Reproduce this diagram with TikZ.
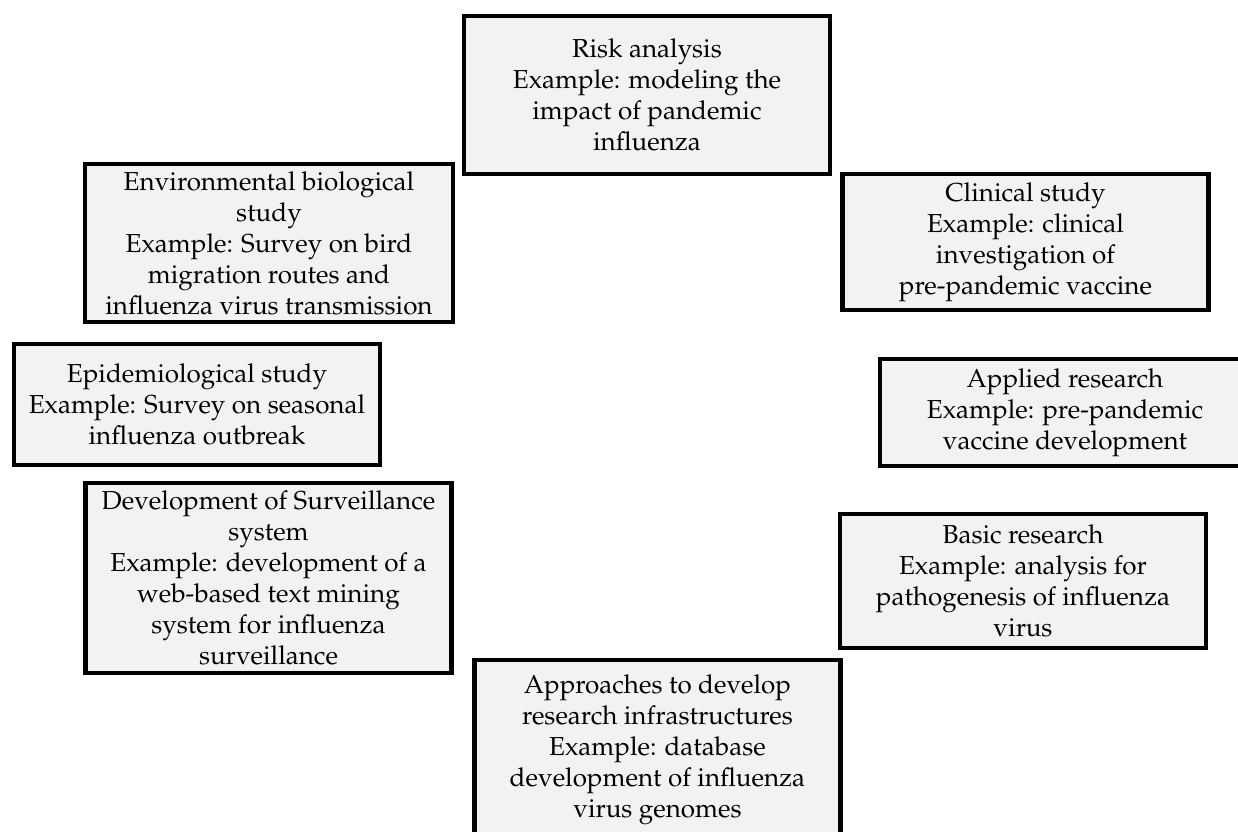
\documentclass[tikz,border=0pt]{standalone}
\usepackage[T1]{fontenc}
\usepackage{mathpazo}
\usepackage{tikz}
\usetikzlibrary{shadows}

\definecolor{boxgray}{RGB}{242,242,242}

\begin{document}
\begin{tikzpicture}[x=0.5pt,y=-0.5pt,
                    main node/.style={rectangle,draw,line width=2.2pt,fill=boxgray,
                      align=center,inner sep=0pt,minimum width=183pt,
                      font=\fontsize{13}{15.5}\selectfont,
                      drop shadow={shadow xshift=0.7pt,shadow yshift=-0.7pt,fill=black!40}}]

  \useasboundingbox (0,0) rectangle (1238,831);

  \node[main node, minimum height=79pt] (risk) at (647,95)
    {Risk analysis\\Example: modeling the\\impact of pandemic\\influenza};
  \node[main node, minimum height=79pt, minimum width=184pt] (envbio) at (269,243)
    {Environmental biological\\study\\Example: Survey on bird\\migration routes and\\influenza virus transmission};
  \node[main node, minimum height=68pt] (clinical) at (1025.5,242)
    {Clinical study\\Example: clinical\\investigation of\\pre-pandemic vaccine};
  \node[main node, minimum height=60.5pt] (epidemio) at (197,404.5)
    {Epidemiological study\\Example: Survey on seasonal\\influenza outbreak};
  \node[main node, minimum height=53.5pt, minimum width=185pt] (applied) at (1065,412.5)
    {Applied research\\Example: pre-pandemic\\vaccine development};
  \node[main node, minimum height=95pt] (surveil) at (268.5,578)
    {Development of Surveillance\\system\\Example: development of a\\web-based text mining\\system for influenza\\surveillance};
  \node[main node, minimum height=67pt] (basic) at (1023,581)
    {Basic research\\Example: analysis for\\pathogenesis of influenza\\virus};
  \node[main node, minimum height=90pt] (infra) at (657.5,750)
    {Approaches to develop\\research infrastructures\\Example: database\\development of influenza\\virus genomes};
\end{tikzpicture}
\end{document}
